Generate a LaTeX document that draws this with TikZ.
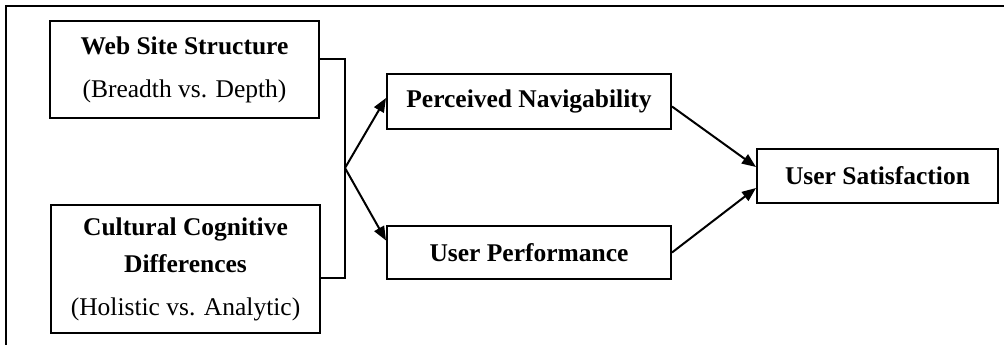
\documentclass[tikz,border=0pt]{standalone}
\usepackage{fontspec}
\setmainfont{Liberation Serif}
\usetikzlibrary{positioning,calc,arrows.meta}

\begin{document}
\begin{tikzpicture}[
    x=1pt, y=-1pt,
    font=\fontsize{25.5}{37}\selectfont,
    factor/.style={draw, line width=2pt, inner sep=0pt, align=center},
    link/.style={line width=2pt},
    effect/.style={line width=2pt, -{Triangle[length=14pt, width=11pt]}} % filled arrow into the next box
]
\useasboundingbox (0,0) rectangle (1004,345);

% --- Outer frame (only top and left edges fall inside the page) ---
\draw[line width=2pt] (6,360) -- (6,6) -- (1020,6);

% --- Independent variables ---
\node[factor, minimum width=269pt, minimum height=97pt] (web) at (184.5,69.5)
    {\textbf{Web Site Structure}\\[6pt](Breadth vs. Depth)};
\node[factor, minimum width=269pt, minimum height=128pt] (culture) at (185.5,269)
    {\textbf{Cultural Cognitive}\\\textbf{Differences}\\[6pt](Holistic vs. Analytic)};

% --- Mediators ---
\node[factor, minimum width=284pt, minimum height=55pt] (nav) at (529,101.5)
    {\textbf{Perceived Navigability}};
\node[factor, minimum width=284pt, minimum height=53pt] (perf) at (529,252.5)
    {\textbf{User Performance}};

% --- Outcome ---
\node[factor, minimum width=241pt, minimum height=54pt] (sat) at (877.5,176)
    {\textbf{User Satisfaction}};

% --- Bracket joining the two inputs ---
\coordinate (fork) at (345,168);
\draw[link] ([yshift=10.5pt]web.east) -| (fork) |- ([yshift=-9pt]culture.east);

% --- Edges ---
\draw[effect] (fork) -- ([yshift=3.5pt]nav.west);
\draw[effect] (fork) -- ([yshift=12pt]perf.west);
\draw[effect] ([yshift=-5pt]nav.east) -- ([yshift=9pt]sat.west);
\draw[effect] (perf.east) -- ([yshift=-12pt]sat.west);

\end{tikzpicture}
\end{document}
